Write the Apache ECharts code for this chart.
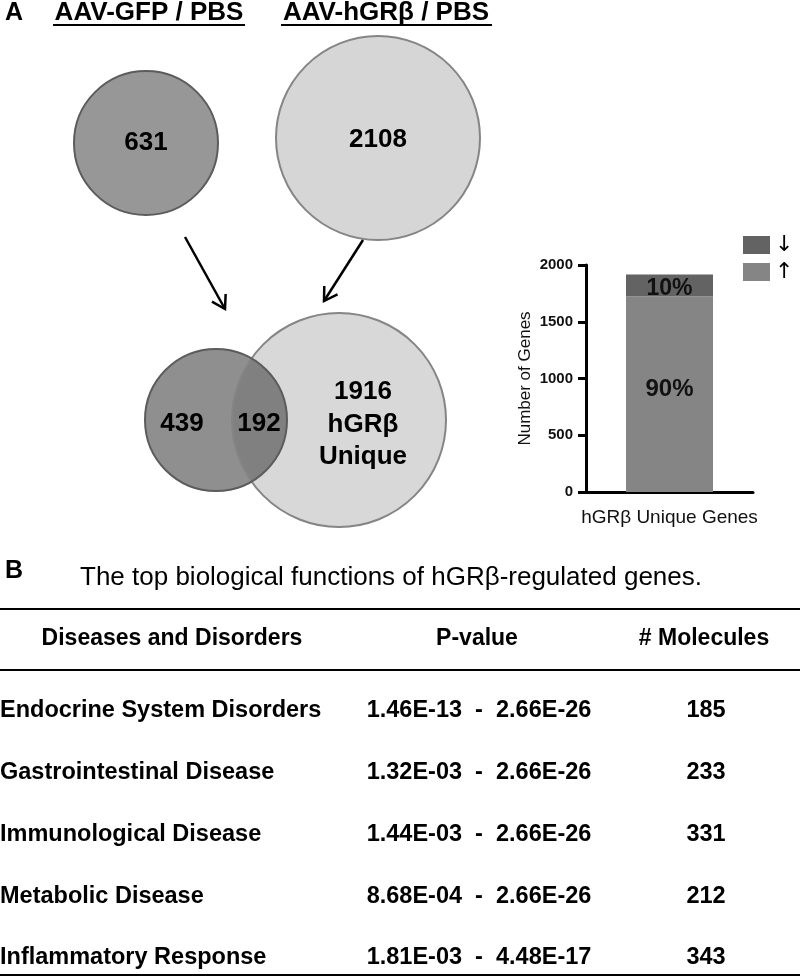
<!DOCTYPE html>
<html>
<head>
<meta charset="utf-8">
<script src="https://cdn.jsdelivr.net/npm/echarts@6/dist/echarts.min.js"></script>
<style>
  html, body { margin: 0; padding: 0; background: #fff; }
  #chart { width: 800px; height: 978px; }
</style>
</head>
<body>
<div id="chart"></div>
<script>
// panel A: gene counts
const setNames = ['AAV-GFP / PBS', 'AAV-hGRβ / PBS'];
const setTotals = [631, 2108];
const gfpOnly = 439;
const shared = 192;
const hgrbUnique = 1916;

// stacked bar of the unique genes
const barCategories = ['hGRβ Unique Genes'];
const upGenes = [1724];
const downGenes = [192];

// panel B: table
const tableTitle = 'The top biological functions of hGRβ-regulated genes.';
const tableHeaders = ['Diseases and Disorders', 'P-value', '# Molecules'];
const diseases = [
  'Endocrine System Disorders',
  'Gastrointestinal Disease',
  'Immunological Disease',
  'Metabolic Disease',
  'Inflammatory Response',
];
const pHigh = ['1.46E-13', '1.32E-03', '1.44E-03', '8.68E-04', '1.81E-03'];
const pLow = ['2.66E-26', '2.66E-26', '2.66E-26', '2.66E-26', '4.48E-17'];
const molecules = [185, 233, 331, 212, 343];

const FONT = 'Liberation Sans, Arial, sans-serif';
const chart = echarts.init(document.getElementById('chart'));

function txt(text, x, y, size, opts) {
  opts = opts || {};
  return {
    type: 'text',
    z: 10,
    style: {
      text: String(text),
      x: x,
      y: y,
      font: (opts.weight || 'bold') + ' ' + size + 'px ' + FONT,
      fill: opts.color || '#000',
      textAlign: opts.align || 'center',
      textVerticalAlign: 'middle',
    },
  };
}

function hline(x1, x2, y, w) {
  return {
    type: 'line',
    z: 5,
    shape: { x1: x1, y1: y, x2: x2, y2: y },
    style: { stroke: '#000', lineWidth: w || 2 },
  };
}

function arrow(x1, y1, x2, y2) {
  const a = Math.atan2(y2 - y1, x2 - x1);
  const len = 15;
  const spread = 0.55;
  return [
    {
      type: 'line',
      z: 5,
      shape: { x1: x1, y1: y1, x2: x2, y2: y2 },
      style: { stroke: '#000', lineWidth: 2.5 },
    },
    {
      type: 'polyline',
      z: 5,
      shape: {
        points: [
          [x2 - len * Math.cos(a - spread), y2 - len * Math.sin(a - spread)],
          [x2, y2],
          [x2 - len * Math.cos(a + spread), y2 - len * Math.sin(a + spread)],
        ],
      },
      style: { stroke: '#000', lineWidth: 2.5, fill: null },
    },
  ];
}

const graphic = [];

// headings
graphic.push(txt('A', 14, 13, 25));
graphic.push(txt(setNames[0], 149, 13, 26));
graphic.push(hline(53, 245, 25, 2));
graphic.push(txt(setNames[1], 386, 13, 26));
graphic.push(hline(281, 492, 25, 2));

// top circles
graphic.push({
  type: 'circle', z: 1,
  shape: { cx: 146, cy: 143, r: 72 },
  style: { fill: '#979797', stroke: '#5c5c5c', lineWidth: 2 },
});
graphic.push({
  type: 'circle', z: 1,
  shape: { cx: 378, cy: 138, r: 102 },
  style: { fill: '#d6d6d6', stroke: '#858585', lineWidth: 2 },
});
graphic.push(txt(setTotals[0], 146, 143, 26));
graphic.push(txt(setTotals[1], 378, 140, 26));

arrow(185, 237, 225, 309).forEach(g => graphic.push(g));
arrow(363, 240, 324, 301).forEach(g => graphic.push(g));

// overlap venn
graphic.push({
  type: 'circle', z: 1,
  shape: { cx: 339, cy: 420, r: 107 },
  style: { fill: '#d8d8d8' },
});
graphic.push({
  type: 'circle', z: 2,
  shape: { cx: 216, cy: 420, r: 71 },
  style: { fill: 'rgba(75,75,75,0.62)' },
});
graphic.push({
  type: 'circle', z: 3,
  shape: { cx: 339, cy: 420, r: 107 },
  style: { fill: null, stroke: '#858585', lineWidth: 2 },
});
graphic.push({
  type: 'circle', z: 3,
  shape: { cx: 216, cy: 420, r: 71 },
  style: { fill: null, stroke: '#5c5c5c', lineWidth: 2 },
});
graphic.push(txt(gfpOnly, 182, 424, 26));
graphic.push(txt(shared, 259, 424, 26));
graphic.push(txt(hgrbUnique, 363, 392, 26));
graphic.push(txt('hGRβ', 363, 425, 26));
graphic.push(txt('Unique', 363, 457, 26));

// panel B
graphic.push(txt('B', 14, 571, 25));
graphic.push(txt(tableTitle, 391, 578, 26, { weight: 'normal' }));
graphic.push(hline(0, 800, 609, 2));
graphic.push(hline(0, 800, 670, 2));
graphic.push(hline(0, 800, 975, 2));
graphic.push(txt(tableHeaders[0], 172, 639, 23));
graphic.push(txt(tableHeaders[1], 477, 639, 23));
graphic.push(txt(tableHeaders[2], 704, 639, 23));
diseases.forEach((d, i) => {
  const y = 711 + i * 61.7;
  graphic.push(txt(d, 0, y, 23.5, { align: 'left' }));
  graphic.push(txt(pHigh[i] + '  -  ' + pLow[i], 479, y, 23.5));
  graphic.push(txt(molecules[i], 706, y, 23.5));
});

const total = upGenes[0] + downGenes[0];
const pct = p => Math.round(p.value / total * 100) + '%';

chart.setOption({
  animation: false,
  textStyle: { fontFamily: FONT },
  grid: { left: 586, top: 265, width: 167, height: 227, containLabel: false },
  legend: {
    data: ['↓', '↑'],
    orient: 'vertical',
    left: 743,
    top: 234,
    padding: 0,
    icon: 'rect',
    itemWidth: 27,
    itemHeight: 18,
    itemGap: 5,
    textStyle: { fontSize: 22, color: '#000', fontFamily: 'DejaVu Sans' },
  },
  xAxis: {
    type: 'category',
    data: barCategories,
    axisLine: { lineStyle: { color: '#000', width: 3 } },
    axisTick: { alignWithLabel: true, length: 6, lineStyle: { width: 3, color: '#000' } },
    axisLabel: { color: '#111', fontSize: 19, margin: 16 },
  },
  yAxis: {
    type: 'value',
    min: 0,
    max: 2000,
    interval: 500,
    name: 'Number of Genes',
    nameLocation: 'middle',
    nameGap: 52,
    nameTextStyle: { fontSize: 17, color: '#111' },
    axisLine: { show: true, lineStyle: { color: '#000', width: 3 } },
    axisTick: { show: true, length: 8, lineStyle: { width: 3, color: '#000' } },
    axisLabel: { color: '#111', fontSize: 15, fontWeight: 'bold', margin: 13, formatter: v => String(v) },
    splitLine: { show: false },
  },
  series: [
    {
      name: '↑',
      type: 'bar',
      stack: 'genes',
      barWidth: 87,
      data: upGenes,
      itemStyle: { color: '#858585' },
      label: { show: true, position: 'inside', offset: [0, -5], formatter: pct, fontSize: 24, fontWeight: 'bold', color: '#111' },
    },
    {
      name: '↓',
      type: 'bar',
      stack: 'genes',
      barWidth: 87,
      data: downGenes,
      itemStyle: { color: '#636363' },
      label: { show: true, position: 'inside', offset: [0, 3], formatter: pct, fontSize: 23, fontWeight: 'bold', color: '#111' },
    },
  ],
  graphic: graphic,
});
</script>
</body>
</html>
